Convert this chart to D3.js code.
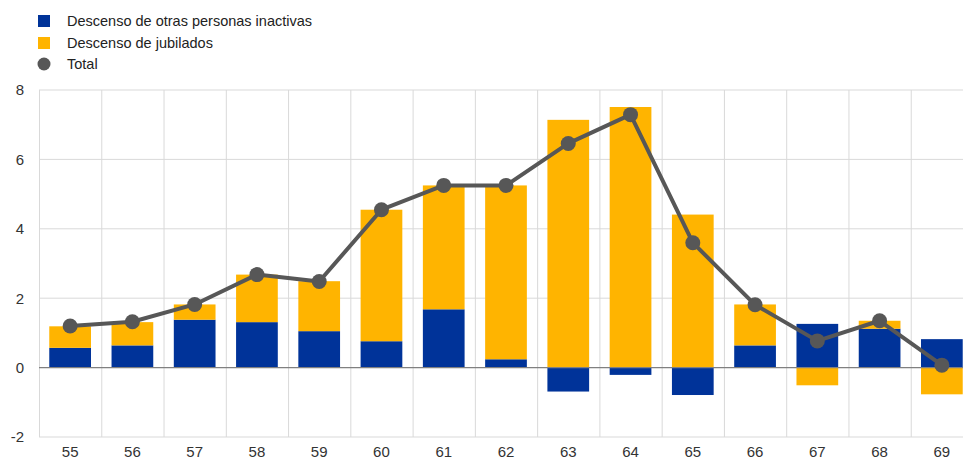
<!DOCTYPE html>
<html>
<head>
<meta charset="utf-8">
<script src="https://cdn.jsdelivr.net/npm/d3@7"></script>
<style>
  html, body { margin: 0; padding: 0; background: #fff; overflow: hidden; }
  svg { display: block; font-family: "Liberation Sans", Arial, sans-serif; }
</style>
</head>
<body>
<svg id="chart" width="963" height="461"></svg>
<script>
// Edades
const categories = ["55","56","57","58","59","60","61","62","63","64","65","66","67","68","69"];
// Descenso de otras personas inactivas
const otrasInactivas = [0.57, 0.64, 1.38, 1.31, 1.05, 0.76, 1.68, 0.24, -0.69, -0.21, -0.79, 0.64, 1.26, 1.12, 0.82];
// Descenso de jubilados
const jubilados = [0.62, 0.67, 0.44, 1.37, 1.44, 3.79, 3.57, 5.01, 7.14, 7.51, 4.41, 1.18, -0.51, 0.23, -0.77];
// Total
const total = [1.20, 1.32, 1.82, 2.68, 2.48, 4.55, 5.25, 5.25, 6.46, 7.29, 3.60, 1.81, 0.77, 1.35, 0.07];
const yTicks = [-2, 0, 2, 4, 6, 8];

const seriesNames = ["Descenso de otras personas inactivas", "Descenso de jubilados", "Total"];
const colors = { otras: "#003399", jub: "#ffb400", total: "#575757" };

const svg = d3.select("#chart");
const mLeft = 39, mRight = 973, mTop = 90, mBottom = 437;

const x = d3.scaleBand().domain(categories).range([mLeft, mRight]).paddingInner(0.33).paddingOuter(0.165);
const xb = d3.scaleBand().domain(categories).range([mLeft, mRight]);
const y = d3.scaleLinear().domain([-2, 8]).range([mBottom, mTop]);

const g = svg.append("g");

// horizontal gridlines
g.selectAll("line.hgrid").data(yTicks.filter(d => d !== 0)).join("line")
  .attr("x1", mLeft).attr("x2", 963)
  .attr("y1", d => y(d)).attr("y2", d => y(d))
  .attr("stroke", "#d9d9d9").attr("stroke-width", 1);

// vertical gridlines at band boundaries
g.selectAll("line.vgrid").data(categories).join("line")
  .attr("x1", d => xb(d) + 0.5).attr("x2", d => xb(d) + 0.5)
  .attr("y1", mTop).attr("y2", mBottom)
  .attr("stroke", "#d9d9d9").attr("stroke-width", 1);

// stacked bars: positive and negative parts stack away from zero separately
categories.forEach((c, i) => {
  let pos = 0, neg = 0;
  [[otrasInactivas[i], colors.otras], [jubilados[i], colors.jub]].forEach(([v, col]) => {
    let y0, y1;
    if (v >= 0) { y0 = pos; y1 = pos + v; pos = y1; }
    else { y0 = neg; y1 = neg + v; neg = y1; }
    g.append("rect")
      .attr("x", x(c))
      .attr("width", x.bandwidth())
      .attr("y", y(Math.max(y0, y1)))
      .attr("height", Math.abs(y(y0) - y(y1)))
      .attr("fill", col);
  });
});

// zero line
g.append("line")
  .attr("x1", mLeft).attr("x2", 963)
  .attr("y1", y(0)).attr("y2", y(0))
  .attr("stroke", "#808080").attr("stroke-width", 1.2);

// total line + markers
const line = d3.line().x((d, i) => x(categories[i]) + x.bandwidth() / 2).y(d => y(d));
g.append("path").datum(total)
  .attr("d", line).attr("fill", "none")
  .attr("stroke", colors.total).attr("stroke-width", 4).attr("stroke-linejoin", "round");
g.selectAll("circle.pt").data(total).join("circle")
  .attr("cx", (d, i) => x(categories[i]) + x.bandwidth() / 2)
  .attr("cy", d => y(d)).attr("r", 7.5)
  .attr("fill", colors.total);

// y axis labels (plain hyphen for negatives)
const yAxis = d3.axisLeft(y).tickValues(yTicks).tickSize(0).tickPadding(0).tickFormat(d => String(d));
const ya = svg.append("g").attr("transform", `translate(${mLeft - 15},0)`).call(yAxis);
ya.select(".domain").remove();
ya.selectAll("text").attr("font-size", 15).attr("fill", "#333").attr("font-family", "Liberation Sans, Arial, sans-serif");

// x axis labels
const xAxis = d3.axisBottom(x).tickSize(0).tickPadding(0);
const xa = svg.append("g").attr("transform", `translate(0,${mBottom + 9})`).call(xAxis);
xa.select(".domain").remove();
xa.selectAll("text").attr("font-size", 15).attr("fill", "#333").attr("font-family", "Liberation Sans, Arial, sans-serif");

// legend
const legend = svg.append("g");
const legendY = [21, 43, 64];
seriesNames.forEach((name, i) => {
  if (i < 2) {
    legend.append("rect").attr("x", 38).attr("y", legendY[i] - 6).attr("width", 12).attr("height", 12)
      .attr("fill", i === 0 ? colors.otras : colors.jub);
  } else {
    legend.append("circle").attr("cx", 44).attr("cy", legendY[i]).attr("r", 6.5).attr("fill", colors.total);
  }
  legend.append("text").attr("x", 67).attr("y", legendY[i] + 5)
    .attr("font-size", 14.5).attr("fill", "#222").text(name);
});
</script>
</body>
</html>
